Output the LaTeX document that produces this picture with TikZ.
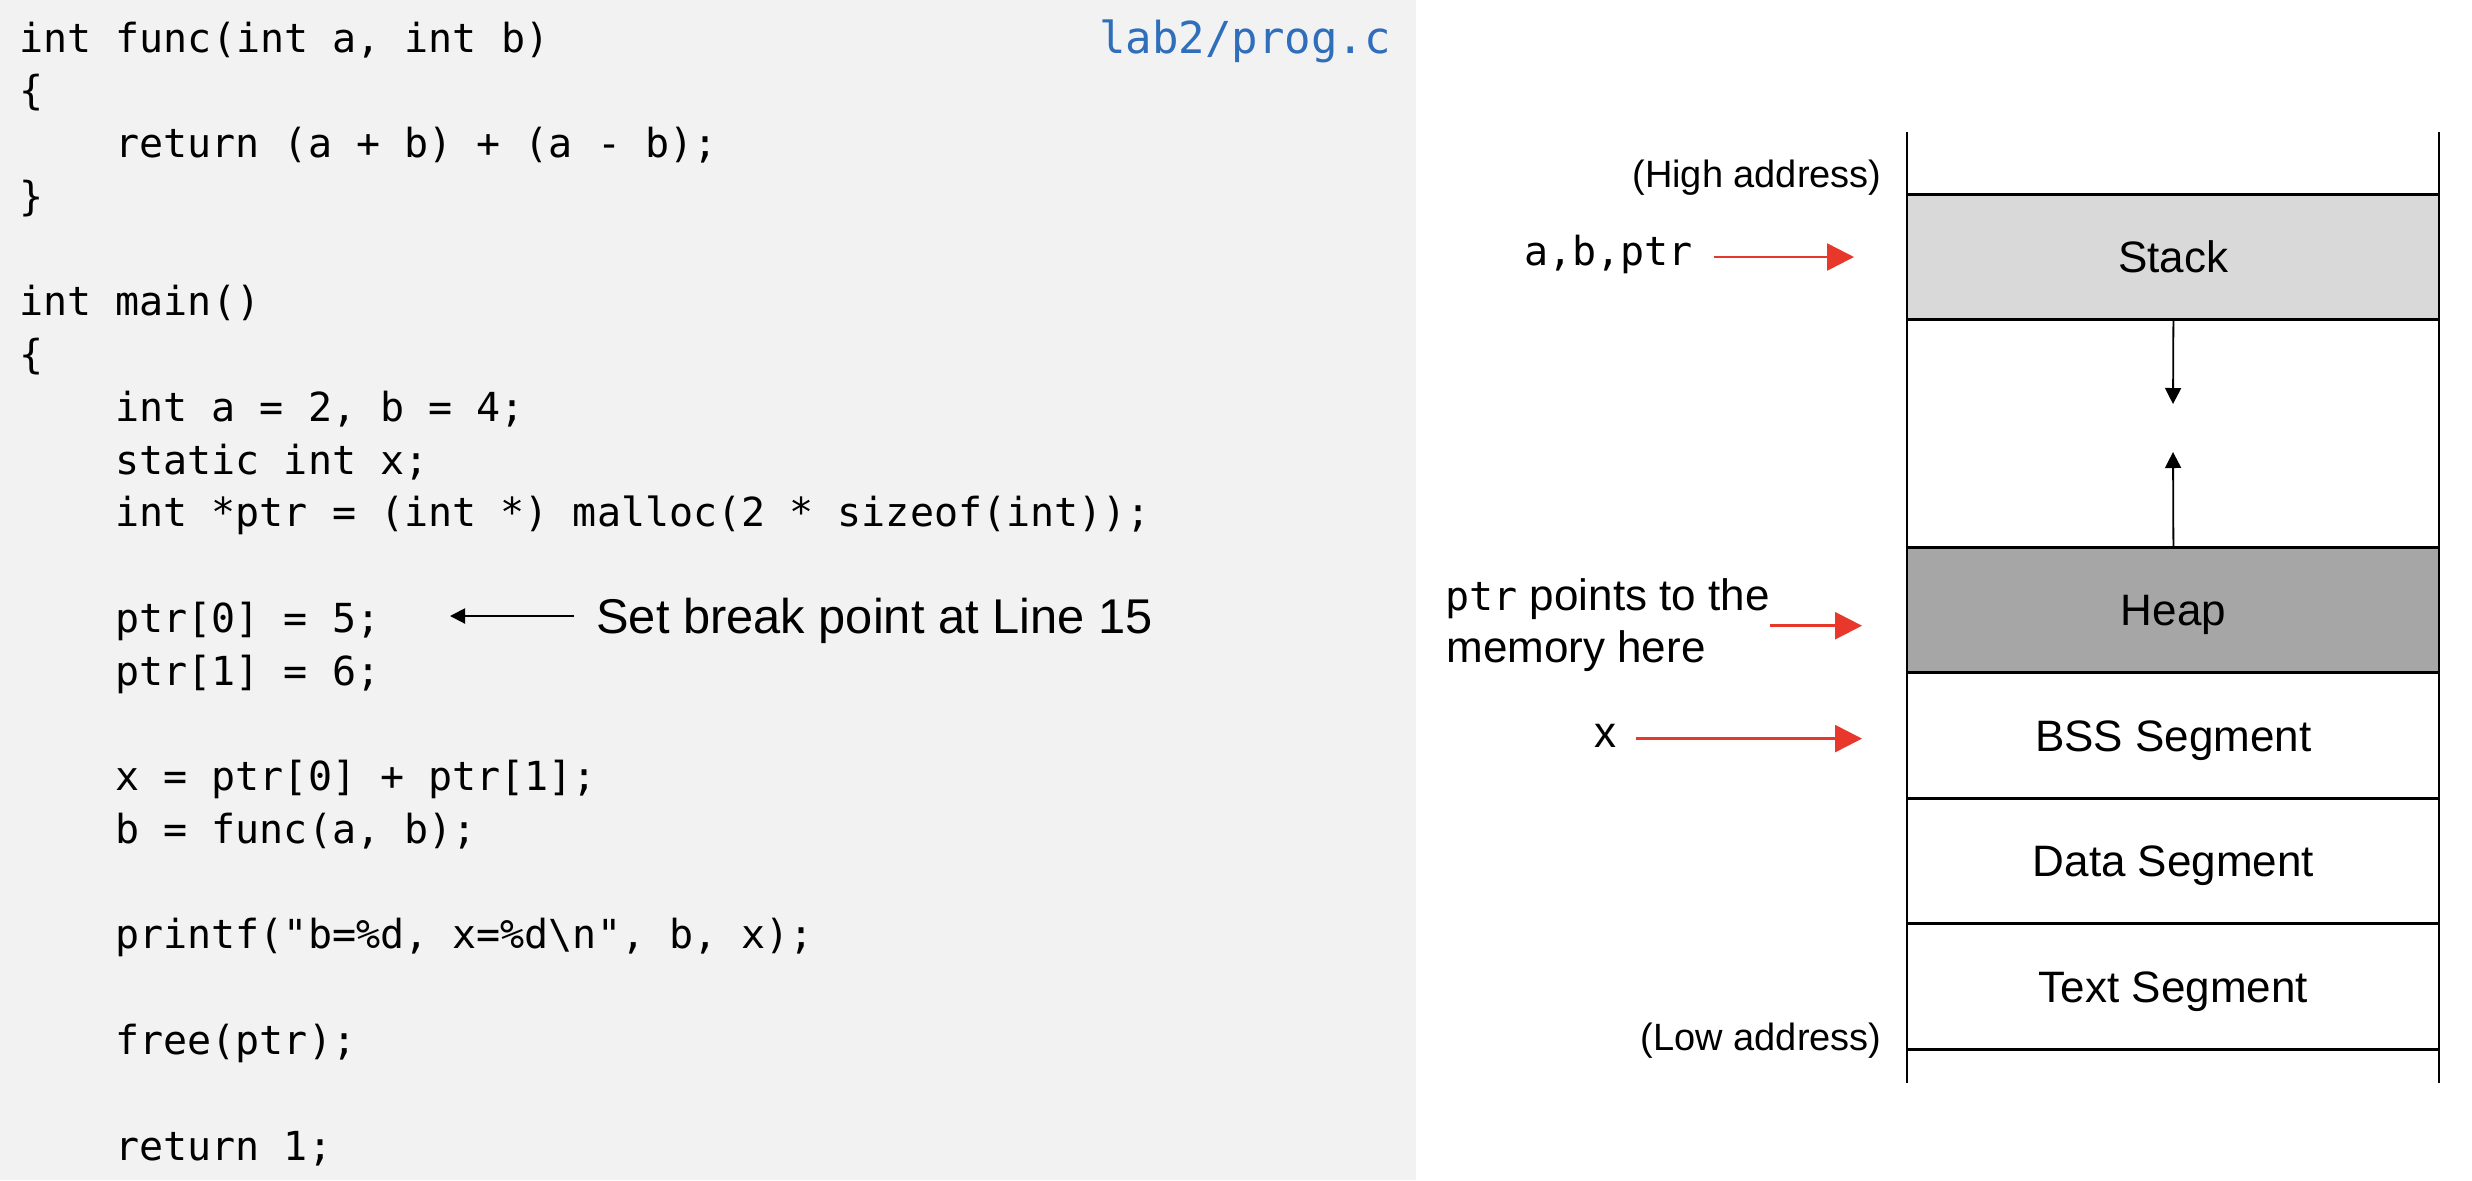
\documentclass[tikz,border=0pt]{standalone}
\usepackage{fontspec}
\setmainfont{Liberation Sans}
\setmonofont{DejaVu Sans Mono}
\usetikzlibrary{arrows.meta}
\definecolor{panel}{HTML}{F2F2F2}
\definecolor{fileblue}{HTML}{2E6EBB}
\definecolor{arrowred}{HTML}{E8382B}
\definecolor{stackgray}{HTML}{D9D9D9}
\definecolor{heapgray}{HTML}{A6A6A6}
\begin{document}
\begin{tikzpicture}[x=0.5pt,y=-0.5pt,
  code/.style={anchor=base west, inner sep=0pt, font=\ttfamily\fontsize{20}{24}\selectfont},
  lbl/.style={inner sep=0pt, font=\fontsize{22}{26}\selectfont},
  addr/.style={inner sep=0pt, anchor=base east, font=\fontsize{19}{22}\selectfont},
  seg/.style={minimum width=266pt, minimum height=62.5pt, inner sep=0pt, anchor=north west,
    text height=15.75pt, text depth=0pt, font=\fontsize{22}{26}\selectfont},
  sepline/.style={line width=1.5pt, black},
  sideline/.style={line width=1pt, black},
  redarrow/.style={draw=arrowred, line width=1.25pt, -{Triangle[length=13.5pt,width=13.5pt]}},
  blkarrow/.style={draw=black, line width=0.9pt, -{Triangle[length=8pt,width=8pt]}}
]
\useasboundingbox (0,0) rectangle (2472,1180);
\fill[white] (0,0) rectangle (2472,1180);
\fill[panel] (0,0) rectangle (1416,1180);

% ---- code ----
\node[code] (c0)  at (19,52)     {int func(int a, int b)};
\node[code] (c1)  at (19,104.8)  {\{};
\node[code] (c2)  at (115,157.5) {return (a + b) + (a - b);};
\node[code] (c3)  at (19,210.3)  {\}};
\node[code] (c5)  at (19,315.8)  {int main()};
\node[code] (c6)  at (19,368.6)  {\{};
\node[code] (c7)  at (115,421.3) {int a = 2, b = 4;};
\node[code] (c8)  at (115,474.1) {static int x;};
\node[code] (c9)  at (115,526.8) {int *ptr = (int *) malloc(2 * sizeof(int));};
\node[code] (c11) at (115,632.4) {ptr[0] = 5;};
\node[code] (c12) at (115,685.1) {ptr[1] = 6;};
\node[code] (c14) at (115,790.6) {x = ptr[0] + ptr[1];};
\node[code] (c15) at (115,843.4) {b = func(a, b);};
\node[code] (c17) at (115,948.9) {printf("b=\%d, x=\%d\textbackslash n", b, x);};
\node[code] (c19) at (115,1054.4) {free(ptr);};
\node[code] (c21) at (115,1160)  {return 1;};

\node[code, text=fileblue, font=\ttfamily\fontsize{22}{26}\selectfont] (file) at (1099,53.3) {lab2/prog.c};

% break point note
\node[inner sep=0pt, anchor=base west, font=\fontsize{24.4}{28}\selectfont] (bp) at (596,633.6) {Set break point at Line 15};
\coordinate (bpstart) at (574,616);
\coordinate (bptip) at (450,616);
\draw[draw=black, line width=1pt, -{Triangle[length=7.5pt,width=7.5pt]}] (bpstart) -- (bptip);

% ---- memory layout ----
\node[seg, fill=stackgray] (stack) at (1907,194) {Stack};
\node[seg, fill=heapgray]  (heap)  at (1907,547) {Heap};
\node[seg] (bss)  at (heap.south west) {BSS Segment};
\node[seg, minimum height=62pt] (data) at (bss.south west) {Data Segment};
\node[seg] (text) at (data.south west) {Text Segment};

\draw[sideline] (1907,132) -- (1907,1083);
\draw[sideline] (2439,132) -- (2439,1083);
\foreach \n in {stack,heap,bss,data,text}{
  \draw[sepline] (\n.north west) -- (\n.north east);
  \draw[sepline] (\n.south west) -- (\n.south east);
}

\coordinate (downtip) at (2173,404);
\coordinate (uptip) at (2173,452);
\draw[blkarrow] (stack.south) -- (downtip);
\draw[blkarrow] (heap.north) -- (uptip);

\node[addr] (high) at (1882,187) {(High address)};
\node[addr] (low) at (1882,1050.6) {(Low address)};

% ---- pointers ----
\node[code] (abp) at (1524,265) {a,b,ptr};
\node[lbl, anchor=base west] (pp1) at (1445,610) {{\ttfamily\fontsize{20}{24}\selectfont ptr} points to the};
\node[lbl, anchor=base west] (pp2) at (1446,662.6) {memory here};
\node[lbl, anchor=base] (xv) at (1605,747.4) {x};

\coordinate (a1s) at (1714,257);
\coordinate (a2s) at (1770,625.7);
\coordinate (a3s) at (1636,738.6);
\draw[redarrow, shorten >=26.5pt] (a1s) -- (a1s -| stack.west);
\draw[redarrow, shorten >=22.5pt] (a2s) -- (a2s -| heap.west);
\draw[redarrow, shorten >=22.5pt] (a3s) -- (a3s -| bss.west);
\end{tikzpicture}
\end{document}
